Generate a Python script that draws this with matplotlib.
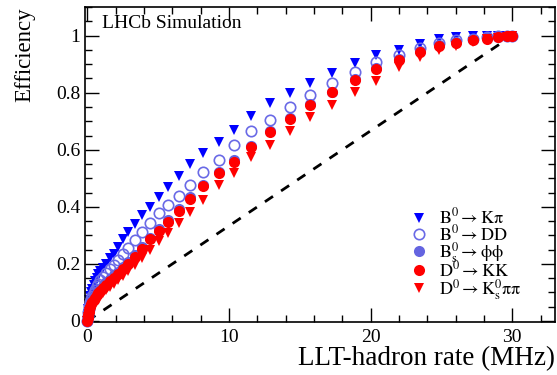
import matplotlib
matplotlib.use("Agg")
import matplotlib.pyplot as plt
from matplotlib.ticker import MultipleLocator

plt.rcParams['font.family'] = ['Liberation Serif', 'DejaVu Serif']
plt.rcParams['mathtext.fontset'] = 'stix'

# LLT-hadron rate (MHz), shared by all channels
rate = [0, 0.02, 0.05, 0.09, 0.14, 0.20, 0.27, 0.35, 0.44, 0.54, 0.65, 0.77, 0.92,
        1.10, 1.32, 1.57, 1.86, 2.14, 2.49, 2.87, 3.34, 3.88, 4.43, 5.05, 5.68,
        6.44, 7.27, 8.16, 9.27, 10.32, 11.55, 12.9, 14.3, 15.7, 17.3, 18.9, 20.4,
        22.0, 23.5, 24.8, 26.0, 27.2, 28.2, 29.0, 29.6, 30.0]

eff_kpi = [0, 0.025, 0.042, 0.058, 0.073, 0.087, 0.1, 0.113, 0.126, 0.139, 0.151, 0.163, 0.175,
           0.187, 0.20, 0.219, 0.236, 0.26, 0.286, 0.312, 0.339, 0.371, 0.40, 0.433, 0.47,
           0.509, 0.55, 0.589, 0.628, 0.669, 0.718, 0.763, 0.798, 0.835, 0.868, 0.903, 0.932,
           0.95, 0.971, 0.987, 0.995, 0.998, 1.0, 1.0, 1.0, 1.0]

eff_dd = [0, 0.017, 0.03, 0.042, 0.054, 0.066, 0.077, 0.088, 0.099, 0.11, 0.121, 0.131, 0.142,
          0.154, 0.167, 0.181, 0.197, 0.213, 0.234, 0.257, 0.283, 0.312, 0.342, 0.377, 0.406,
          0.439, 0.476, 0.523, 0.564, 0.616, 0.667, 0.704, 0.751, 0.792, 0.833, 0.874, 0.909,
          0.932, 0.956, 0.973, 0.985, 0.99, 0.995, 0.998, 1.0, 1.0]

eff_phiphi = [0, 0.013, 0.024, 0.034, 0.044, 0.054, 0.063, 0.072, 0.08, 0.088, 0.096, 0.104, 0.113,
              0.123, 0.135, 0.147, 0.16, 0.173, 0.19, 0.208, 0.232, 0.261, 0.292, 0.322, 0.354,
              0.392, 0.434, 0.478, 0.522, 0.563, 0.615, 0.665, 0.712, 0.76, 0.804, 0.848, 0.886,
              0.918, 0.946, 0.966, 0.977, 0.987, 0.991, 0.996, 0.998, 1.0]

eff_kk = [0, 0.011, 0.02, 0.03, 0.04, 0.049, 0.058, 0.066, 0.074, 0.082, 0.09, 0.098, 0.106,
          0.116, 0.127, 0.139, 0.152, 0.165, 0.181, 0.199, 0.224, 0.254, 0.286, 0.316, 0.348,
          0.386, 0.429, 0.473, 0.517, 0.558, 0.611, 0.661, 0.708, 0.757, 0.801, 0.845, 0.883,
          0.915, 0.944, 0.964, 0.975, 0.985, 0.99, 0.995, 0.998, 1.0]

eff_kspipi = [0, 0.008, 0.015, 0.022, 0.03, 0.038, 0.046, 0.053, 0.06, 0.067, 0.074, 0.081, 0.089,
              0.098, 0.108, 0.119, 0.131, 0.143, 0.158, 0.175, 0.196, 0.222, 0.25, 0.28, 0.309,
              0.342, 0.382, 0.424, 0.476, 0.519, 0.573, 0.616, 0.667, 0.716, 0.757, 0.804, 0.842,
              0.891, 0.926, 0.95, 0.965, 0.978, 0.987, 0.993, 0.997, 1.0]

labels = [r"$\mathrm{B^0 \rightarrow K\pi}$",
          r"$\mathrm{B^0 \rightarrow DD}$",
          r"$\mathrm{B^0_s \rightarrow \phi\phi}$",
          r"$\mathrm{D^0 \rightarrow KK}$",
          r"$\mathrm{D^0 \rightarrow K^0_s\pi\pi}$"]

fig = plt.figure(figsize=(5.57, 3.75), dpi=100)
ax = fig.add_axes([0.153, 0.141, 0.843, 0.840])

ax.plot([0, 30], [0, 1], ls=(0, (3.5, 3.5)), color='black', lw=2, zorder=1)

ms = 7.5
ax.plot(rate, eff_kpi, 'v', color='#0000ff', ms=ms, mew=0, clip_on=False, label=labels[0], zorder=2)
ax.plot(rate, eff_dd, 'o', mfc='none', mec='#6a6ae6', mew=1.2, ms=ms, clip_on=False, label=labels[1], zorder=3)
ax.plot(rate, eff_phiphi, 'o', color='#6464e0', mew=0, ms=ms + 0.5, clip_on=False, label=labels[2], zorder=4)
ax.plot(rate, eff_kk, 'o', color='#ff0000', mew=0, ms=ms + 0.5, clip_on=False, label=labels[3], zorder=5)
ax.plot(rate, eff_kspipi, 'v', color='#ff0000', mew=0, ms=ms, clip_on=False, label=labels[4], zorder=6)

ax.set_xlim(-0.15, 33)
ax.set_ylim(-0.004, 1.1)
ax.xaxis.set_major_locator(MultipleLocator(10))
ax.xaxis.set_minor_locator(MultipleLocator(2))
ax.yaxis.set_minor_locator(MultipleLocator(0.05))
ax.set_yticks([0, 0.2, 0.4, 0.6, 0.8, 1.0])
ax.set_yticklabels(['0', '0.2', '0.4', '0.6', '0.8', '1'])
ax.tick_params(which='both', direction='in', top=True, right=True, labelsize=14, width=1)
ax.tick_params(which='major', length=10)
ax.tick_params(which='minor', length=5)
ax.tick_params(axis='x', pad=5)
for s in ax.spines.values():
    s.set_linewidth(1.2)

ax.set_xlabel('LLT-hadron rate (MHz)', fontsize=19.5, loc='right', labelpad=0)
ax.set_ylabel('Efficiency', fontsize=16.5, loc='top', labelpad=15)

ax.text(0.035, 0.975, 'LHCb Simulation', transform=ax.transAxes, fontsize=14,
        ha='left', va='top')

ax.legend(loc='lower right', bbox_to_anchor=(0.955, 0.025), frameon=False, fontsize=13,
          handlelength=1.0, handletextpad=0.6, labelspacing=-0.22, borderpad=0.2)

fig.savefig('out.png', dpi=100)
